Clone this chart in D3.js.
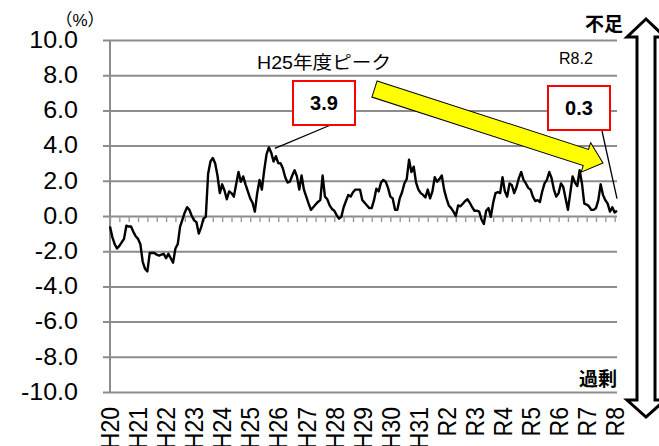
<!DOCTYPE html>
<html>
<head>
<meta charset="utf-8">
<script src="https://cdn.jsdelivr.net/npm/d3@7"></script>
<style>
    body { margin: 0; background: #fff; }
    svg text { font-family: "Liberation Sans", Arial, "Noto Sans CJK JP", sans-serif; }
</style>
</head>
<body>
<div id="chart"></div>
<script>
// year labels, one per January
const yearLabels = ["H20", "H21", "H22", "H23", "H24", "H25", "H26", "H27", "H28", "H29",
    "H30", "H31", "R2", "R3", "R4", "R5", "R6", "R7", "R8"];

// monthly values (%), H20.1 .. R8.2
const monthlyValues = [
    -0.6, -1.2, -1.6, -1.85, -1.7, -1.5, -1.3, -0.55, -0.6, -0.6, -0.9, -1.15,   // H20
    -1.3, -1.6, -2.6, -3.0, -3.15, -2.1, -2.1, -2.1, -2.2, -2.25, -2.2, -2.15,   // H21
    -2.4, -2.15, -2.4, -2.65, -1.85, -1.6, -0.6, -0.2, 0.2, 0.5, 0.35, 0.0,      // H22
    -0.25, -0.35, -1.0, -0.65, -0.15, -0.05, 2.4, 3.1, 3.3, 3.0, 2.3, 1.3,       // H23
    1.8, 1.45, 0.95, 1.4, 1.3, 1.1, 1.8, 2.5, 1.95, 2.25, 1.8, 1.4,              // H24
    1.0, 0.75, 0.25, 1.3, 2.05, 1.5, 2.6, 3.5, 3.9, 3.6, 3.1, 3.4,               // H25
    3.0, 3.0, 2.7, 2.2, 1.9, 1.95, 2.3, 2.6, 2.25, 1.5, 2.3, 1.5,                // H26
    1.1, 0.7, 0.35, 0.5, 0.65, 0.8, 0.9, 2.3, 1.1, 0.95, 0.6, 0.4,               // H27
    0.3, 0.05, -0.15, -0.05, 0.5, 0.85, 1.2, 1.1, 1.35, 1.5, 1.5, 1.5,           // H28
    0.9, 0.75, 0.6, 0.45, 0.45, 0.9, 1.55, 1.4, 1.9, 2.05, 1.95, 1.6,            // H29
    1.1, 1.0, 0.35, 0.35, 1.0, 1.35, 1.85, 2.1, 3.2, 2.5, 2.8, 1.9,              // H30
    1.5, 1.3, 1.2, 1.05, 1.5, 1.0, 1.4, 2.2, 1.95, 2.1, 2.3, 1.5,                // H31
    1.0, 0.6, 0.45, 0.25, 0.0, 0.6, 0.55, 0.7, 0.85, 0.95, 0.75, 0.5,            // R2
    0.3, 0.3, 0.25, -0.2, -0.45, 0.3, 0.45, -0.05, 0.75, 1.3, 1.35, 1.3,         // R3
    2.2, 1.4, 1.1, 1.85, 1.75, 1.3, 1.65, 2.15, 2.5, 2.05, 1.85, 1.6,            // R4
    1.5, 1.1, 0.85, 0.9, 0.8, 1.4, 1.85, 2.05, 2.5, 2.15, 1.5, 1.1,              // R5
    1.3, 1.85, 1.65, 1.0, 0.35, 1.3, 2.25, 1.9, 1.7, 2.6, 1.85, 0.7,             // R6
    0.65, 0.55, 0.35, 0.35, 0.45, 0.9, 1.8, 1.2, 0.9, 0.7, 0.25, 0.5,            // R7
    0.2, 0.3                                                                     // R8
];

const yTicks = [-10, -8, -6, -4, -2, 0, 2, 4, 6, 8, 10];

const peakIndex = 68;      // H25 peak
const peakLabel = "3.9";
const latestLabel = "0.3";

const stretch = "scale(1.09,1)";

const svg = d3.select('#chart').append('svg')
    .attr('width', 659)
    .attr('height', 446);

const x = d3.scaleLinear()
    .domain([0, monthlyValues.length - 1])
    .range([110, 617]);

const y = d3.scaleLinear()
    .domain([-10, 10])
    .range([392, 40]);

// horizontal gridlines
const grid = svg.append('g')
    .attr('transform', 'translate(103,0)')
    .call(d3.axisRight(y).tickValues(yTicks).tickSize(617 - 103).tickFormat(''));
grid.select('.domain').remove();
grid.selectAll('line').attr('stroke', '#8c8c8c').attr('stroke-width', 2);

// vertical axis line
svg.append('line')
    .attr('x1', 110).attr('x2', 110)
    .attr('y1', y(10)).attr('y2', y(-10))
    .attr('stroke', '#8c8c8c')
    .attr('stroke-width', 2);

// small ticks under the zero line, every 4 months
const tickIdx = d3.range(0, monthlyValues.length, 4);
const zeroTicks = svg.append('g')
    .attr('transform', 'translate(0,' + y(0) + ')')
    .call(d3.axisBottom(x).tickValues(tickIdx).tickSize(6).tickFormat(''));
zeroTicks.select('.domain').remove();
zeroTicks.selectAll('line').attr('stroke', '#999').attr('stroke-width', 1.4);

// y labels
const yAxis = svg.append('g')
    .attr('transform', 'translate(78,0)')
    .call(d3.axisLeft(y).tickValues(yTicks).tickSize(0).tickPadding(0)
        .tickFormat(function (d) { return d.toFixed(1); }));
yAxis.select('.domain').remove();
yAxis.selectAll('text')
    .attr('font-size', 23)
    .attr('fill', '#000')
    .attr('transform', stretch);

// x labels (rotated, cut by the bottom edge like the original)
const yearIdx = yearLabels.map(function (d, i) { return i * 12; });
const xAxis = svg.append('g')
    .attr('transform', 'translate(0,407)')
    .call(d3.axisBottom(x).tickValues(yearIdx).tickSize(0)
        .tickFormat(function (d) { return yearLabels[d / 12]; }));
xAxis.select('.domain').remove();
xAxis.selectAll('text')
    .attr('font-size', 23)
    .attr('fill', '#000')
    .attr('x', 0).attr('y', 0).attr('dy', '0.35em')
    .attr('text-anchor', 'end')
    .attr('transform', stretch + ' rotate(-90)');

// (%) unit
svg.append('text')
    .attr('x', 80).attr('y', 26)
    .attr('text-anchor', 'middle')
    .attr('font-size', 17)
    .text('（%）');

// data line
const line = d3.line()
    .x(function (d, i) { return x(i); })
    .y(function (d) { return y(d); });

svg.append('path')
    .datum(monthlyValues)
    .attr('d', line)
    .attr('fill', 'none')
    .attr('stroke', '#000')
    .attr('stroke-width', 2.4)
    .attr('stroke-linejoin', 'round');

// yellow trend arrow
const tail = [374.5, 89], tip = [603, 163];
const len = Math.hypot(tip[0] - tail[0], tip[1] - tail[1]);
const ang = Math.atan2(tip[1] - tail[1], tip[0] - tail[0]) * 180 / Math.PI;
const w = 8.5, h = 15.5, hl = 18;
svg.append('path')
    .attr('transform', 'translate(' + tail[0] + ',' + tail[1] + ') rotate(' + ang + ')')
    .attr('d', 'M0,' + (-w) + 'L' + (len - hl) + ',' + (-w) + 'L' + (len - hl) + ',' + (-h) +
        'L' + len + ',0L' + (len - hl) + ',' + h + 'L' + (len - hl) + ',' + w + 'L0,' + w + 'Z')
    .attr('fill', '#ffff00')
    .attr('stroke', '#000')
    .attr('stroke-width', 1);

// annotation texts
svg.append('text')
    .attr('x', 257).attr('y', 69)
    .attr('font-size', 18)
    .attr('transform', 'translate(' + (-257 * 0.09) + ',0) ' + stretch)
    .text('H25年度ピーク');

svg.append('text')
    .attr('x', 559).attr('y', 64)
    .attr('font-size', 16)
    .text('R8.2');

// leader lines
const last = monthlyValues.length - 1;
svg.append('line')
    .attr('x1', x(peakIndex) + 6).attr('y1', y(monthlyValues[peakIndex]) + 1)
    .attr('x2', 333).attr('y2', 124)
    .attr('stroke', '#000').attr('stroke-width', 1.3);
svg.append('line')
    .attr('x1', 602).attr('y1', 131)
    .attr('x2', x(last)).attr('y2', y(monthlyValues[last]) - 12)
    .attr('stroke', '#000').attr('stroke-width', 1.3);

// value boxes
const boxes = [
    { x: 293, y: 81, w: 62, h: 44, label: peakLabel },
    { x: 548, y: 86, w: 62, h: 44, label: latestLabel }
];
const box = svg.append('g').selectAll('g').data(boxes).enter().append('g');
box.append('rect')
    .attr('x', function (d) { return d.x; })
    .attr('y', function (d) { return d.y; })
    .attr('width', function (d) { return d.w; })
    .attr('height', function (d) { return d.h; })
    .attr('fill', '#fff')
    .attr('stroke', '#ff0000')
    .attr('stroke-width', 2);
box.append('text')
    .attr('x', function (d) { return d.x + d.w / 2; })
    .attr('y', function (d) { return d.y + d.h / 2; })
    .attr('dy', '0.36em')
    .attr('text-anchor', 'middle')
    .attr('font-size', 20)
    .attr('font-weight', 'bold')
    .text(function (d) { return d.label; });

// shortage / surplus double arrow
svg.append('path')
    .attr('d', 'M646,19L665,37L655,37L655,400L665,400L646,417L627,400L637,400L637,37L627,37Z')
    .attr('fill', '#fff')
    .attr('stroke', '#000')
    .attr('stroke-width', 3)
    .attr('stroke-linejoin', 'miter');

svg.append('text')
    .attr('x', 585).attr('y', 31)
    .attr('font-size', 19)
    .attr('font-weight', 'bold')
    .text('不足');

svg.append('text')
    .attr('x', 579).attr('y', 386)
    .attr('font-size', 19)
    .attr('font-weight', 'bold')
    .text('過剰');
</script>
</body>
</html>
